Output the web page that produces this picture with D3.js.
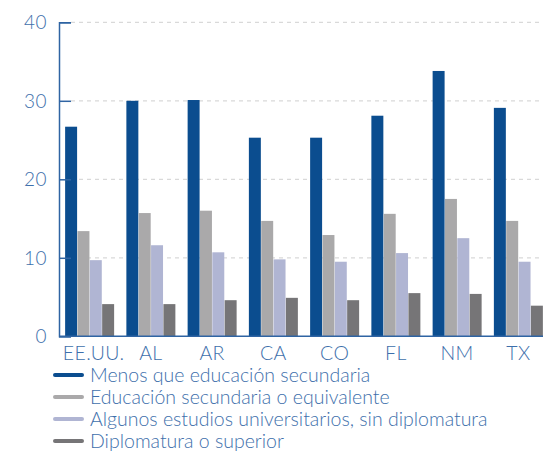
<!DOCTYPE html>
<html>
<head>
  <meta charset="utf-8">
  <style>
    body { margin: 0; background: #fff; }
    svg text { font-family: Lato, "Open Sans", sans-serif; font-weight: 300; }
  </style>
</head>
<body>
  <svg width="553" height="453"></svg>
  <script src="https://d3js.org/d3.v7.min.js"></script>
  <script>
    // data
    var states = ["EE.UU.", "AL", "AR", "CA", "CO", "FL", "NM", "TX"];
    var seriesNames = [
      "Menos que educación secundaria",
      "Educación secundaria o equivalente",
      "Algunos estudios universitarios, sin diplomatura",
      "Diplomatura o superior"
    ];
    var menosSecundaria = [26.7, 30.0, 30.1, 25.3, 25.3, 28.1, 33.8, 29.1];
    var secundaria = [13.4, 15.7, 16.0, 14.7, 12.9, 15.6, 17.5, 14.7];
    var algunosEstudios = [9.7, 11.6, 10.7, 9.8, 9.5, 10.6, 12.5, 9.5];
    var diplomatura = [4.1, 4.1, 4.6, 4.9, 4.6, 5.5, 5.4, 3.9];
    var yTicks = [0, 10, 20, 30, 40];

    var series = [menosSecundaria, secundaria, algunosEstudios, diplomatura];
    var colors = ["#0b4d8f", "#aaa9aa", "#b0b5d3", "#767577"];
    var textColor = "#3e6fab";

    var svg = d3.select("svg");

    var x = d3.scaleBand()
      .domain(states)
      .range([59, 549])
      .paddingInner(0.2)
      .paddingOuter(0.1);

    var x1 = d3.scaleBand()
      .domain(d3.range(series.length))
      .range([0, x.bandwidth()])
      .paddingInner(0.03);

    var y = d3.scaleLinear()
      .domain([0, 40])
      .range([336.3, 22.3]);

    // grid
    svg.append("g")
      .selectAll("line")
      .data(yTicks.slice(1))
      .enter().append("line")
      .attr("x1", 71)
      .attr("x2", 541)
      .attr("y1", function (d) { return y(d); })
      .attr("y2", function (d) { return y(d); })
      .attr("stroke", "#d9d9d9")
      .attr("stroke-width", 1.2)
      .attr("stroke-dasharray", "4,4");

    // bars
    var groups = svg.append("g")
      .selectAll("g")
      .data(states)
      .enter().append("g")
      .attr("transform", function (d) { return "translate(" + x(d) + ",0)"; });

    groups.selectAll("rect")
      .data(function (d, i) { return series.map(function (s, k) { return { k: k, v: s[i] }; }); })
      .enter().append("rect")
      .attr("x", function (d) { return x1(d.k); })
      .attr("width", x1.bandwidth())
      .attr("y", function (d) { return y(d.v); })
      .attr("height", function (d) { return y(0) - y(d.v); })
      .attr("fill", function (d) { return colors[d.k]; });

    // y axis
    var yAxis = svg.append("g")
      .attr("transform", "translate(59,0)")
      .call(d3.axisRight(y).tickValues(yTicks).tickSize(12).tickFormat(""));
    yAxis.select(".domain").attr("stroke", "#2f64a3").attr("stroke-width", 1.5);
    yAxis.selectAll(".tick line").attr("stroke", "#2f64a3").attr("stroke-width", 1.5);

    svg.append("g")
      .selectAll("text")
      .data(yTicks)
      .enter().append("text")
      .attr("x", 47)
      .attr("y", function (d) { return y(d); })
      .attr("dy", "0.36em")
      .attr("text-anchor", "end")
      .attr("fill", textColor)
      .attr("font-size", 19)
      .attr("letter-spacing", 0.5)
      .text(function (d) { return d; });

    // baseline
    svg.append("line")
      .attr("x1", 59).attr("x2", 543)
      .attr("y1", y(0)).attr("y2", y(0))
      .attr("stroke", "#2f64a3")
      .attr("stroke-width", 1.5);

    // x labels
    svg.append("g")
      .selectAll("text")
      .data(states)
      .enter().append("text")
      .attr("x", function (d) { return x(d) + x.bandwidth() / 2 + (d === "EE.UU." ? 4 : 0); })
      .attr("y", 360)
      .attr("text-anchor", "middle")
      .attr("fill", textColor)
      .attr("font-size", 19.5)
      .attr("letter-spacing", 0.4)
      .text(function (d) { return d; });

    // legend
    var legend = svg.append("g")
      .selectAll("g")
      .data(seriesNames)
      .enter().append("g")
      .attr("transform", function (d, i) { return "translate(55," + (375 + i * 22) + ")"; });

    legend.append("line")
      .attr("x2", 27)
      .attr("stroke", function (d, i) { return colors[i]; })
      .attr("stroke-width", 4)
      .attr("stroke-linecap", "round");

    legend.append("text")
      .attr("x", 35)
      .attr("y", 6.5)
      .attr("fill", textColor)
      .attr("font-size", 19.5)
      .text(function (d) { return d; });
  </script>
</body>
</html>
